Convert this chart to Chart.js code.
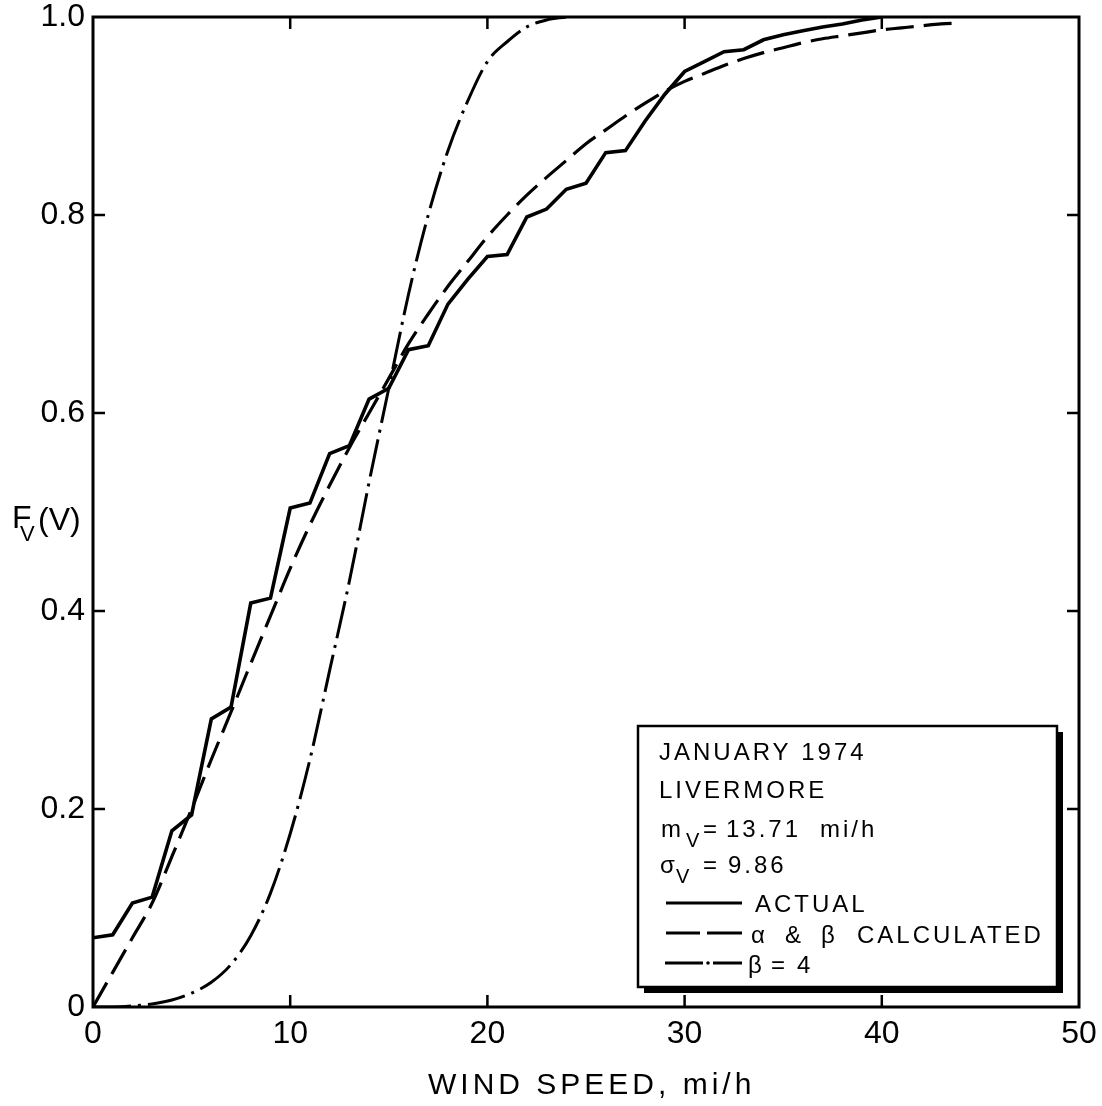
<!DOCTYPE html>
<html><head><meta charset="utf-8">
<script src="https://cdn.jsdelivr.net/npm/chart.js@4.4.1/dist/chart.umd.min.js"></script>
<style>html,body{margin:0;padding:0;background:#fff}canvas{display:block}</style>
</head><body>
<canvas id="c" width="1102" height="1106"></canvas>
<script>
// ---- data ----
const xTickValues = [0, 10, 20, 30, 40, 50];
const yTickValues = [0, 0.2, 0.4, 0.6, 0.8, 1.0];
const xTitle = 'WIND SPEED, mi/h';

const actualSpeed = [0,1,2,3,4,5,6,7,8,9,10,11,12,13,14,15,16,17,18,19,20,21,22,23,24,25,26,27,28,29,30,31,32,33,34,35,36,37,38,39,40];
const actualF = [0.070,0.073,0.105,0.111,0.178,0.194,0.291,0.303,0.408,0.413,
                 0.504,0.509,0.559,0.567,0.614,0.625,0.664,0.668,0.710,0.735,
                 0.758,0.760,0.798,0.806,0.826,0.832,0.863,0.865,0.895,0.922,
                 0.945,0.955,0.965,0.967,0.977,0.982,0.986,0.990,0.993,0.997,1.000];

const calcSpeed = [0,1,2,3,4,5,6,7,8,9,10,11,12,13,14,15,16,17,18,19,20,21,22,23,24,25,26,27,28,29,30,31,32,33,34,35,36,37,38,39,40,41,42,43,44];
const calcF = [0,0.035,0.070,0.105,0.152,0.200,0.250,0.298,0.347,0.395,
               0.443,0.487,0.527,0.565,0.600,0.635,0.670,0.700,0.728,0.753,
               0.778,0.800,0.820,0.838,0.855,0.872,0.886,0.900,0.913,0.925,
               0.935,0.943,0.951,0.958,0.964,0.969,0.974,0.978,0.981,0.984,
               0.987,0.989,0.991,0.993,0.994];

const beta4Speed = [0,1,2,3,4,5,6,7,8,9,10,11,12,13,14,15,16,17,18,19,20,21,22,23,24];
const beta4F = [0,0.000,0.001,0.003,0.007,0.014,0.025,0.043,0.072,0.115,
                0.175,0.250,0.340,0.430,0.530,0.625,0.720,0.800,0.865,0.915,
                0.955,0.975,0.990,0.997,1.000];

const infoLines = ['JANUARY 1974', 'LIVERMORE'];
const meanText = ['m', 'V', '=', '13.71', 'mi/h'];
const sigmaText = ['\u03C3', 'V', '=', '9.86'];
const seriesNames = ['ACTUAL', '\u03B1 & \u03B2 CALCULATED', '\u03B2 = 4'];
const calcParts = ['\u03B1', '&', '\u03B2', 'CALCULATED'];
const beta4Parts = ['\u03B2', '=', '4'];

const toXY = (xs, ys) => xs.map((x, i) => ({x: x, y: ys[i]}));

const FONT = "'Liberation Sans', Arial, sans-serif";

const decor = {
  id: 'decor',
  afterDraw(chart) {
    const ctx = chart.ctx;
    const a = chart.chartArea;
    const xs = chart.scales.x, ys = chart.scales.y;
    ctx.save();
    ctx.strokeStyle = '#000';
    ctx.lineWidth = 3;
    ctx.strokeRect(a.left, a.top, a.right - a.left, a.bottom - a.top);
    // inward ticks
    ctx.lineWidth = 2.5;
    const tl = 12;
    ctx.beginPath();
    xTickValues.slice(1, -1).forEach(v => {
      const p = xs.getPixelForValue(v);
      ctx.moveTo(p, a.bottom); ctx.lineTo(p, a.bottom - tl);
      ctx.moveTo(p, a.top); ctx.lineTo(p, a.top + tl);
    });
    yTickValues.slice(1, -1).forEach(v => {
      const p = ys.getPixelForValue(v);
      ctx.moveTo(a.left, p); ctx.lineTo(a.left + tl, p);
      ctx.moveTo(a.right, p); ctx.lineTo(a.right - tl, p);
    });
    ctx.stroke();

    // y axis title F_V(V)
    ctx.fillStyle = '#000';
    ctx.textBaseline = 'alphabetic';
    ctx.textAlign = 'left';
    ctx.font = '32px ' + FONT;
    ctx.fillText('F', 12, 528);
    ctx.font = '22px ' + FONT;
    ctx.fillText('V', 20, 541);
    ctx.font = '32px ' + FONT;
    ctx.fillText('(V)', 38, 530);

    // x axis title
    ctx.font = '30px ' + FONT;
    ctx.textAlign = 'left';
    ctx.letterSpacing = '4px';
    ctx.fillText(xTitle, 428, 1094);
    ctx.letterSpacing = '0px';

    // legend / info box
    const bx = 638, by = 726, bw = 419, bh = 261;
    ctx.fillStyle = '#fff';
    ctx.fillRect(bx, by, bw, bh);
    ctx.fillStyle = '#000';
    ctx.fillRect(bx + bw, by + 6, 6, bh);
    ctx.fillRect(bx + 6, by + bh, bw, 6);
    ctx.lineWidth = 2.5;
    ctx.strokeRect(bx, by, bw, bh);

    ctx.textAlign = 'left';
    ctx.font = '24px ' + FONT;
    ctx.letterSpacing = '3px';
    ctx.fillText(infoLines[0], 659, 760);
    ctx.fillText(infoLines[1], 659, 798);
    // m_V = 13.71 mi/h
    ctx.letterSpacing = '0px';
    ctx.fillText(meanText[0], 661, 837);
    ctx.font = '20px ' + FONT;
    ctx.fillText(meanText[1], 686, 847);
    ctx.font = '24px ' + FONT;
    ctx.fillText(meanText[2], 703, 837);
    ctx.letterSpacing = '3px';
    ctx.fillText(meanText[3], 726, 837);
    ctx.fillText(meanText[4], 820, 837);
    // sigma_V = 9.86
    ctx.letterSpacing = '0px';
    ctx.fillText(sigmaText[0], 660, 873);
    ctx.font = '20px ' + FONT;
    ctx.fillText(sigmaText[1], 676, 883);
    ctx.font = '24px ' + FONT;
    ctx.fillText(sigmaText[2], 703, 873);
    ctx.letterSpacing = '3px';
    ctx.fillText(sigmaText[3], 728, 873);
    // series names
    ctx.fillText(seriesNames[0], 755, 912);
    ctx.letterSpacing = '0px';
    ctx.fillText(calcParts[0], 751, 943);
    ctx.fillText(calcParts[1], 785, 943);
    ctx.fillText(calcParts[2], 821, 943);
    ctx.letterSpacing = '3px';
    ctx.fillText(calcParts[3], 857, 943);
    ctx.letterSpacing = '0px';
    ctx.fillText(beta4Parts[0], 748, 973);
    ctx.fillText(beta4Parts[1], 771, 973);
    ctx.fillText(beta4Parts[2], 797, 973);
    // line samples
    ctx.lineWidth = 3;
    ctx.beginPath();
    ctx.moveTo(666, 903); ctx.lineTo(742, 903);
    ctx.moveTo(666, 933); ctx.lineTo(700, 933);
    ctx.moveTo(707, 933); ctx.lineTo(742, 933);
    ctx.moveTo(665, 963); ctx.lineTo(703, 963);
    ctx.moveTo(713, 963); ctx.lineTo(742, 963);
    ctx.stroke();
    ctx.beginPath();
    ctx.arc(708, 963, 1.8, 0, Math.PI * 2);
    ctx.fill();
    ctx.restore();
  }
};

new Chart(document.getElementById('c'), {
  type: 'line',
  data: {
    datasets: [
      { label: seriesNames[2], data: toXY(beta4Speed, beta4F), borderColor: '#000', borderWidth: 3,
        borderDash: [38, 7, 3, 7], pointRadius: 0, cubicInterpolationMode: 'monotone', fill: false },
      { label: seriesNames[1], data: toXY(calcSpeed, calcF), borderColor: '#000', borderWidth: 3.2,
        borderDash: [28, 10], pointRadius: 0, cubicInterpolationMode: 'monotone', fill: false },
      { label: seriesNames[0], data: toXY(actualSpeed, actualF), borderColor: '#000', borderWidth: 3.6,
        pointRadius: 0, tension: 0, fill: false, borderJoinStyle: 'miter' }
    ]
  },
  options: {
    responsive: false,
    animation: false,
    devicePixelRatio: 1,
    layout: { padding: { left: 0, top: 17, right: 23, bottom: 0 } },
    plugins: { legend: { display: false }, tooltip: { enabled: false }, title: { display: false } },
    scales: {
      x: {
        type: 'linear', min: 0, max: 50,
        afterBuildTicks: s => { s.ticks = xTickValues.map(v => ({value: v})); },
        grid: { display: false, drawTicks: false },
        border: { display: false },
        ticks: { color: '#000', font: { family: FONT, size: 32 }, padding: 8, maxRotation: 0,
                 callback: v => String(v) },
        afterFit: s => { s.height = 99; s.paddingLeft = 0; s.paddingRight = 0; }
      },
      y: {
        type: 'linear', min: 0, max: 1,
        afterBuildTicks: s => { s.ticks = yTickValues.map(v => ({value: v})); },
        grid: { display: false, drawTicks: false },
        border: { display: false },
        ticks: { color: '#000', font: { family: FONT, size: 32 }, padding: 8,
                 callback: v => (v === 0 ? '0' : v.toFixed(1)) },
        afterFit: s => { s.width = 93; s.paddingTop = 0; s.paddingBottom = 0; }
      }
    }
  },
  plugins: [decor]
});
</script>
</body></html>
